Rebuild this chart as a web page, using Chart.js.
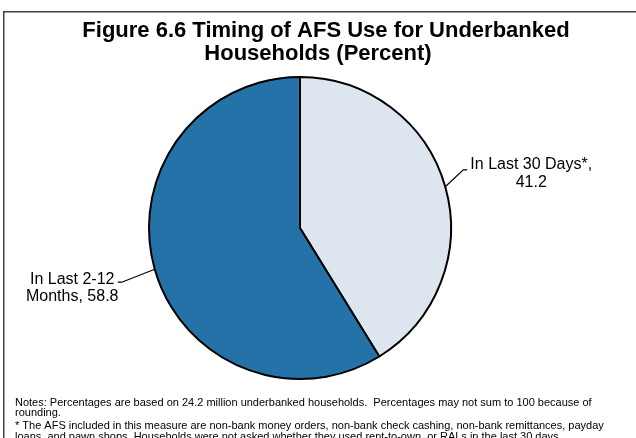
<!DOCTYPE html>
<html>
<head>
<meta charset="utf-8">
<script src="https://cdn.jsdelivr.net/npm/chart.js@4"></script>
<style>
html,body{margin:0;padding:0;background:#fff;}
canvas{display:block;}
</style>
</head>
<body>
<canvas id="c" width="636" height="438"></canvas>
<script>
const categories = ['In Last 30 Days*', 'In Last 2-12 Months'];
const values = [41.2, 58.8];
const labelLines = [['In Last 30 Days*,', '41.2'], ['In Last 2-12', 'Months, 58.8']];
const titleLines = ['Figure 6.6 Timing of AFS Use for Underbanked', 'Households (Percent)'];
const noteLines = [
  'Notes: Percentages are based on 24.2 million underbanked households.  Percentages may not sum to 100 because of',
  'rounding.',
  '* The AFS included in this measure are non-bank money orders, non-bank check cashing, non-bank remittances, payday',
  'loans, and pawn shops. Households were not asked whether they used rent-to-own, or RALs in the last 30 days.'
];
const colors = ['#DDE5EE', '#2572A9'];

const FONT = '"Liberation Sans", Arial, sans-serif';

const decor = {
  id: 'decor',
  beforeDraw(chart) {
    const ctx = chart.ctx;
    ctx.save();
    ctx.fillStyle = '#fff';
    ctx.fillRect(0, 0, chart.width, chart.height);
    ctx.strokeStyle = '#404040';
    ctx.lineWidth = 1.5;
    ctx.strokeRect(3.75, 11.75, 800, 600);
    ctx.fillStyle = '#000';
    ctx.textAlign = 'center';
    ctx.textBaseline = 'alphabetic';
    ctx.font = 'bold 22px ' + FONT;
    ctx.fillText(titleLines[0], 326, 37);
    ctx.fillText(titleLines[1], 318, 60);
    ctx.textAlign = 'left';
    ctx.font = '11px ' + FONT;
    ctx.fillText(noteLines[0], 15, 406);
    ctx.fillText(noteLines[1], 15, 416);
    ctx.fillText(noteLines[2], 15, 429);
    ctx.fillText(noteLines[3], 15, 440);
    ctx.restore();
  },
  afterDatasetsDraw(chart) {
    const ctx = chart.ctx;
    const arcs = chart.getDatasetMeta(0).data;
    ctx.save();
    ctx.strokeStyle = '#000';
    ctx.lineWidth = 1.2;
    ctx.fillStyle = '#000';
    ctx.font = '16px ' + FONT;
    ctx.textAlign = 'center';
    ctx.textBaseline = 'middle';
    arcs.forEach((arc, i) => {
      const p = arc.getProps(['x', 'y', 'startAngle', 'endAngle', 'outerRadius'], true);
      const mid = (p.startAngle + p.endAngle) / 2;
      const sx = p.x + Math.cos(mid) * p.outerRadius;
      const sy = p.y + Math.sin(mid) * p.outerRadius;
      const right = Math.cos(mid) >= 0;
      let ex, ey, hx, cx, y1, y2;
      if (right) {
        ex = sx + 18; ey = sy - 17; hx = ex + 4;
        cx = hx + 64; y1 = ey - 5; y2 = ey + 13;
      } else {
        ex = sx - 33; ey = sy + 13; hx = ex - 4;
        cx = hx - 45.5; y1 = ey - 3; y2 = ey + 14;
      }
      ctx.beginPath();
      ctx.moveTo(sx, sy);
      ctx.lineTo(ex, ey);
      ctx.lineTo(hx, ey);
      ctx.stroke();
      ctx.fillText(labelLines[i][0], cx, y1);
      ctx.fillText(labelLines[i][1], cx, y2);
    });
    ctx.restore();
  }
};

new Chart(document.getElementById('c'), {
  type: 'pie',
  data: {
    labels: categories,
    datasets: [{
      data: values,
      backgroundColor: colors,
      borderColor: '#000',
      borderWidth: 2
    }]
  },
  options: {
    responsive: false,
    animation: false,
    layout: { padding: { left: 148, right: 184, top: 76, bottom: 58 } },
    plugins: {
      legend: { display: false },
      tooltip: { enabled: false },
      title: { display: false }
    }
  },
  plugins: [decor]
});
</script>
</body>
</html>
